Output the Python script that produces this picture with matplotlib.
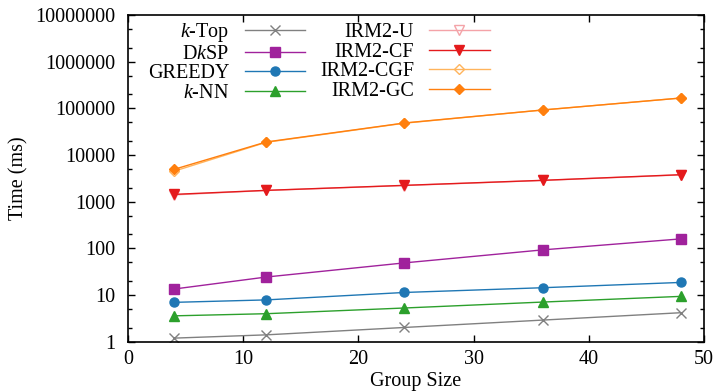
import numpy as np
import matplotlib
matplotlib.use('Agg')
import matplotlib.pyplot as plt
from matplotlib.ticker import LogLocator, FixedLocator, NullFormatter

plt.rcParams['font.family'] = ['Liberation Serif', 'DejaVu Serif']
plt.rcParams['mathtext.fontset'] = 'custom'
plt.rcParams['mathtext.rm'] = 'Liberation Serif'
plt.rcParams['mathtext.it'] = 'Liberation Serif:italic'

group_size = [4, 12, 24, 36, 48]

k_top   = [1.2, 1.41, 2.03, 2.92, 4.2]
dksp    = [13.5, 24.4, 49, 93, 160]
greedy  = [7.0, 7.9, 11.4, 14.4, 18.7]
k_nn    = [3.6, 4.0, 5.3, 7.1, 9.4]
irm2_u  = [1400, 1740, 2220, 2850, 3750]
irm2_cf = [1435, 1750, 2240, 2870, 3790]
irm2_cgf = [4500, 18700, 48000, 92000, 166000]
irm2_gc = [4930, 19000, 48500, 92000, 166000]

series = [
    ('$k$-Top', k_top, '#808080', 'x', 'full'),
    ('D$k$SP', dksp, '#a0229c', 's', 'full'),
    ('GREEDY', greedy, '#1f77b4', 'o', 'full'),
    ('$k$-NN', k_nn, '#2ca02c', '^', 'full'),
    ('IRM2-U', irm2_u, '#f4a3a8', 'v', 'none'),
    ('IRM2-CF', irm2_cf, '#e41a1c', 'v', 'full'),
    ('IRM2-CGF', irm2_cgf, '#ffb45c', 'D', 'none'),
    ('IRM2-GC', irm2_gc, '#ff7f0e', 'D', 'full'),
]

fs = 14.5

fig = plt.figure(figsize=(7.19, 3.92), dpi=100)
ax = fig.add_axes([0.178, 0.128, 0.801, 0.834])

for label, vals, col, mk, fill in series:
    ms = 5.5 if mk == 'D' else 6.5
    ax.plot(group_size, vals, color=col, marker=mk, fillstyle=fill,
            markersize=ms, linewidth=1.0, label=label,
            markerfacecolor=col if fill == 'full' else 'none')

ax.set_yscale('log')
ax.set_xlim(0, 50)
ax.set_ylim(1, 1e7)
ax.set_xticks([0, 10, 20, 30, 40, 50])
yt = [10 ** i for i in range(8)]
ax.yaxis.set_major_locator(FixedLocator(yt))
ax.set_yticklabels([str(v) for v in yt])
ax.yaxis.set_minor_locator(LogLocator(base=10, subs=(2.0, 5.0)))
ax.yaxis.set_minor_formatter(NullFormatter())
ax.tick_params(which='both', direction='in', top=True, right=True,
               labelsize=fs, width=1)
ax.tick_params(which='major', length=5)
ax.tick_params(axis='y', which='major', pad=9)
ax.tick_params(axis='x', which='major', pad=6)
ax.tick_params(which='minor', length=3)
for s in ax.spines.values():
    s.set_linewidth(1.2)

ax.set_xlabel('Group Size', fontsize=fs, labelpad=2)
ax.set_ylabel('Time (ms)', fontsize=fs, labelpad=5)

ax.legend(ncol=2, loc='upper left', bbox_to_anchor=(0.035, 0.98),
          frameon=False, markerfirst=False, fontsize=fs,
          handlelength=3.0, handletextpad=0.75, columnspacing=0.75,
          labelspacing=0.02, borderaxespad=0, borderpad=0)

fig.savefig('out.png', dpi=100)
